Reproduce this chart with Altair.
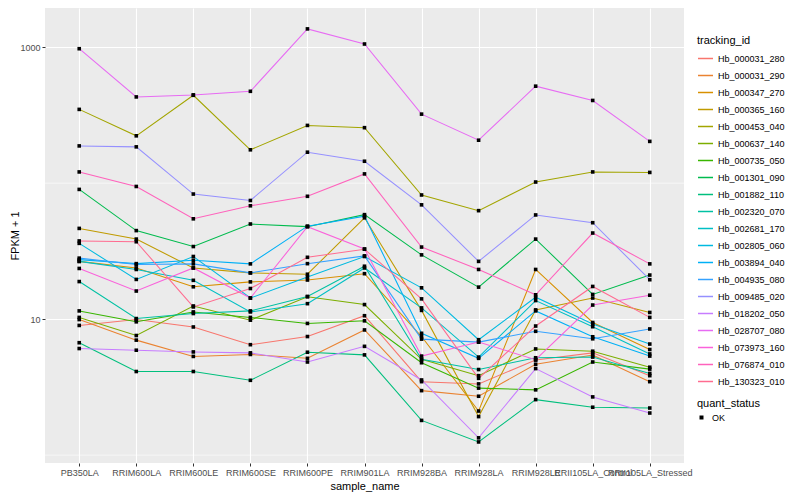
import altair as alt
import pandas as pd

samples = ["PB350LA", "RRIM600LA", "RRIM600LE", "RRIM600SE", "RRIM600PE", "RRIM901LA",
           "RRIM928BA", "RRIM928LA", "RRIM928LE", "RRII105LA_Control", "RRII105LA_Stressed"]

tracking_ids = ["Hb_000031_280", "Hb_000031_290", "Hb_000347_270", "Hb_000365_160", "Hb_000453_040",
                "Hb_000637_140", "Hb_000735_050", "Hb_001301_090", "Hb_001882_110", "Hb_002320_070",
                "Hb_002681_170", "Hb_002805_060", "Hb_003894_040", "Hb_004935_080", "Hb_009485_020",
                "Hb_018202_050", "Hb_028707_080", "Hb_073973_160", "Hb_076874_010", "Hb_130323_010"]

colors = ["#F8766D", "#EA8331", "#D89000", "#C09B00", "#A3A500", "#7CAE00", "#39B600", "#00BB4E",
          "#00BF7D", "#00C1A3", "#00BFC4", "#00BAE0", "#00B0F6", "#35A2FF", "#9590FF", "#C77CFF",
          "#E76BF3", "#FA62DB", "#FF62BC", "#FF6C90"]

hb_000031_280 = [8.99, 9.93, 8.76, 6.49, 7.45, 10.6, 3.47, 3.34, 5.00, 5.65, 3.84]
hb_000031_290 = [9.93, 7.01, 5.32, 5.50, 5.15, 8.33, 2.98, 2.71, 4.66, 5.44, 3.47]
hb_000347_270 = [26.6, 23.8, 17.3, 18.8, 19.4, 21.6, 7.45, 2.11, 23.2, 9.45, 5.98]
hb_000365_160 = [46.5, 38.8, 23.8, 21.9, 21.4, 55.6, 11.6, 1.92, 11.7, 14.3, 11.2]
hb_000453_040 = [349, 223, 443, 176, 266, 256, 81.9, 62.8, 102, 121, 120]
hb_000637_140 = [10.3, 7.58, 12.5, 9.83, 14.6, 12.8, 5.06, 3.84, 6.04, 5.81, 4.43]
hb_000735_050 = [11.5, 9.56, 11.3, 10.3, 9.30, 9.72, 4.78, 3.11, 3.02, 4.84, 4.29]
hb_001301_090 = [90.0, 44.8, 34.2, 50.1, 47.9, 58.7, 29.7, 17.2, 38.8, 15.2, 21.1]
hb_001882_110 = [6.71, 4.12, 4.12, 3.55, 5.71, 5.46, 1.80, 1.25, 2.56, 2.25, 2.22]
hb_002320_070 = [18.9, 10.1, 11.0, 11.5, 14.7, 24.5, 5.06, 4.26, 5.20, 5.26, 3.99]
hb_002681_170 = [26.6, 23.2, 19.3, 11.3, 13.0, 23.8, 12.1, 5.26, 13.7, 8.80, 5.55]
hb_002805_060 = [36.1, 19.6, 28.9, 14.3, 20.4, 28.9, 17.0, 7.06, 14.5, 9.20, 6.56]
hb_003894_040 = [27.4, 25.6, 27.1, 25.5, 48.3, 57.2, 7.87, 5.15, 11.5, 7.42, 5.35]
hb_004935_080 = [28.1, 25.2, 25.5, 21.9, 25.6, 29.2, 7.13, 6.78, 8.14, 7.17, 8.47]
hb_009485_020 = [188, 185, 83.2, 74.6, 169, 145, 69.3, 26.6, 58.4, 51.2, 19.5]
hb_018202_050 = [6.08, 5.91, 5.74, 5.65, 4.84, 6.31, 3.57, 1.34, 4.33, 2.68, 2.04]
hb_028707_080 = [975, 431, 446, 474, 1364, 1056, 322, 207, 517, 406, 203]
hb_073973_160 = [23.6, 16.1, 23.8, 14.3, 47.9, 32.8, 5.35, 6.78, 5.03, 12.7, 15.0]
hb_076874_010 = [121, 94.6, 54.7, 68.2, 80.1, 117, 33.9, 23.2, 15.1, 43.0, 25.5]
hb_130323_010 = [37.6, 37.1, 12.3, 16.8, 28.5, 32.7, 14.1, 3.67, 8.90, 17.4, 10.3]

series = [hb_000031_280, hb_000031_290, hb_000347_270, hb_000365_160, hb_000453_040,
          hb_000637_140, hb_000735_050, hb_001301_090, hb_001882_110, hb_002320_070,
          hb_002681_170, hb_002805_060, hb_003894_040, hb_004935_080, hb_009485_020,
          hb_018202_050, hb_028707_080, hb_073973_160, hb_076874_010, hb_130323_010]

major_breaks = [10, 1000]
minor_breaks = [1, 100]

rows = []
for tid, vals in zip(tracking_ids, series):
    for i, (s, v) in enumerate(zip(samples, vals)):
        rows.append({"tracking_id": tid, "sample_name": s, "idx": i, "fpkm": v, "quant_status": "OK"})
df = pd.DataFrame(rows)
minor_df = pd.DataFrame({"fpkm": minor_breaks})

FONT = "Liberation Sans"
W, H = 639, 455

x_enc = alt.X("sample_name:N", sort=samples,
              scale=alt.Scale(type="point", padding=0.6),
              axis=alt.Axis(title="sample_name", labelAngle=0, labelOverlap=False,
                            labelFlush=False, labelBound=False))
y_scale = alt.Scale(type="log", domain=[0.875, 1943], nice=False)
y_axis = alt.Axis(title="FPKM + 1", values=major_breaks, format="d",
                  titleX=-30, titleY=H / 2, titleBaseline="middle", titleAlign="center")
y_enc = alt.Y("fpkm:Q", scale=y_scale, axis=y_axis)

minor = alt.Chart(minor_df).mark_rule(color="white", strokeWidth=0.6).encode(
    y=y_enc
)

lines = alt.Chart(df).mark_line(strokeWidth=1.05, clip=True).encode(
    x=x_enc,
    y=y_enc,
    color=alt.Color("tracking_id:N",
                    scale=alt.Scale(domain=tracking_ids, range=colors),
                    legend=alt.Legend(title="tracking_id", orient="none", legendX=652, legendY=27,
                                      symbolType="stroke", symbolSize=225, symbolStrokeWidth=1.5,
                                      rowPadding=3, titlePadding=4, labelOffset=4)),
    order=alt.Order("idx:Q"),
)

points = alt.Chart(df).mark_point(filled=True, size=13, opacity=1, color="black").encode(
    x=x_enc,
    y=y_enc,
    shape=alt.Shape("quant_status:N",
                    scale=alt.Scale(domain=["OK"], range=["square"]),
                    legend=alt.Legend(title="quant_status", orient="none", legendX=652, legendY=390,
                                      symbolSize=16, symbolFillColor="black", symbolStrokeColor="black",
                                      titlePadding=4, labelOffset=6)),
)

chart = alt.layer(minor, lines, points).properties(
    width=W, height=H,
    autosize=alt.AutoSizeParams(type="none"),
    padding={"left": 37, "top": 0, "right": 108, "bottom": 29},
).configure(font=FONT).configure_view(
    fill="#EBEBEB", stroke=None
).configure_axis(
    domain=False, grid=True, gridColor="white", gridWidth=1.1,
    tickColor="#333333", tickSize=3, tickWidth=1,
    labelFont=FONT, labelFontSize=9, labelColor="#4D4D4D", labelPadding=2,
    titleFont=FONT, titleFontSize=11, titleFontWeight="normal", titleColor="black", titlePadding=3,
).configure_legend(
    titleFont=FONT, titleFontSize=11, titleFontWeight="normal", titleColor="black",
    labelFont=FONT, labelFontSize=9, labelColor="black",
)

chart.save("out.html", embed_options={"renderer": "svg", "actions": False})
